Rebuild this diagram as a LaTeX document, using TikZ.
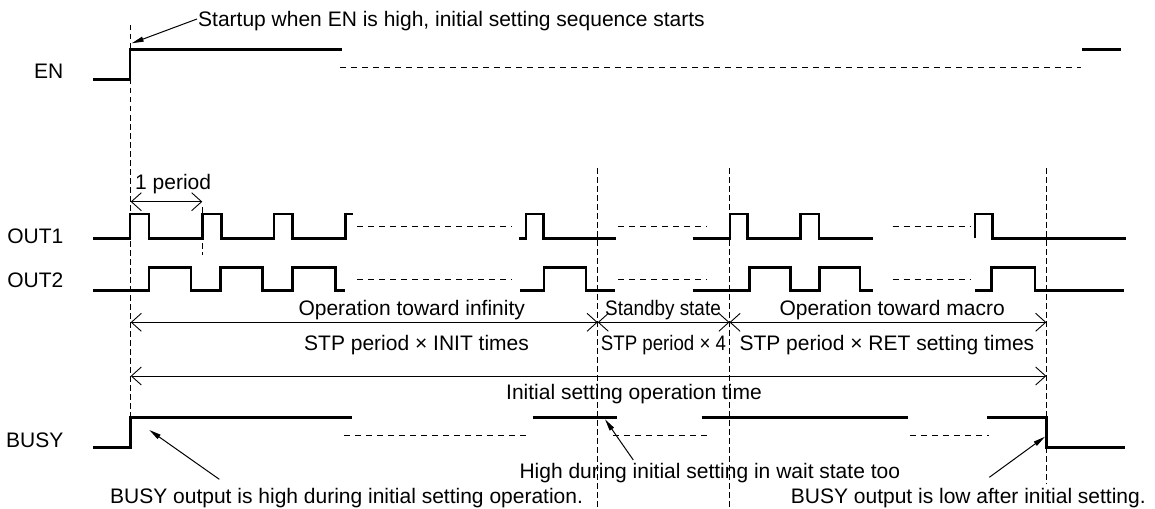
\documentclass[tikz,border=0pt]{standalone}
\usepackage{fontspec}
\setmainfont{Liberation Sans}
\usepackage{graphicx}
\usetikzlibrary{arrows.meta}
\begin{document}
\begin{tikzpicture}[x=1pt,y=-1pt,
  sig/.style={line width=2.6pt, line join=miter, line cap=butt},
  cont/.style={line width=0.9pt, dash pattern=on 6pt off 5pt},
  guide/.style={line width=0.9pt, dash pattern=on 5.5pt off 3.5pt},
  dim/.style={line width=0.9pt, {Straight Barb[length=10pt,width=18pt]}-{Straight Barb[length=10pt,width=18pt]}},
  note/.style={line width=1pt, -{Triangle[length=12pt,width=5pt]}},
  lbl/.style={font=\fontsize{21}{25}\selectfont, inner sep=0pt}]
\useasboundingbox (0,0) rectangle (1155,508);

% guide lines
\draw[guide] (130,25) -- (130,417);
\draw[guide] (202.3,207) -- (202.3,255);
\draw[guide] (597.7,168) -- (597.7,508);
\draw[guide] (729.5,168) -- (729.5,508);
\draw[guide] (1046.7,168) -- (1046.7,484);

% signal labels
\node[lbl, anchor=base east] (lEN) at (63.5,78.5) {EN};
\node[lbl, anchor=base east] (lOUT1) at (63.5,243.5) {OUT1};
\node[lbl, anchor=base east] (lOUT2) at (63.5,287) {OUT2};
\node[lbl, anchor=base east] (lBUSY) at (63.5,447) {BUSY};

% EN
\def\hi{49.3}\def\lo{79.3}
\draw[sig] (93,\lo) -- (130,\lo) -- (130,\hi) -- (341.7,\hi);
\draw[cont] (340,67.7) -- (1081,67.7);
\draw[sig] (1082,\hi) -- (1121,\hi);

% OUT1
\def\hi{214}\def\lo{238.3}\def\mid{226}
\draw[sig] (93,\lo) -- (130,\lo) -- (130,\hi) -- (149,\hi) -- (149,\lo) -- (202.3,\lo) -- (202.3,\hi) -- (221.7,\hi) -- (221.7,\lo) -- (274,\lo) -- (274,\hi) -- (292.7,\hi) -- (292.7,\lo) -- (345.7,\lo) -- (345.7,\hi) -- (353,\hi);
\draw[cont] (357,\mid) -- (512,\mid);
\draw[sig] (519.3,\lo) -- (526,\lo) -- (526,\hi) -- (543.3,\hi) -- (543.3,\lo) -- (616,\lo);
\draw[cont] (618,\mid) -- (706.7,\mid);
\draw[sig] (692.7,\lo) -- (730,\lo) -- (730,\hi) -- (747.7,\hi) -- (747.7,\lo) -- (800.7,\lo) -- (800.7,\hi) -- (819,\hi) -- (819,\lo) -- (872.7,\lo);
\draw[cont] (892.7,\mid) -- (970,\mid);
\draw[sig] (975,\lo) -- (975,\hi) -- (992.7,\hi) -- (992.7,\lo) -- (1126,\lo);

% OUT2
\def\hi{267.3}\def\lo{290.7}\def\mid{279.3}
\draw[sig] (93,\lo) -- (149,\lo) -- (149,\hi) -- (191,\hi) -- (191,\lo) -- (220.7,\lo) -- (220.7,\hi) -- (262.3,\hi) -- (262.3,\lo) -- (292.3,\lo) -- (292.3,\hi) -- (335.7,\hi) -- (335.7,\lo) -- (345,\lo);
\draw[cont] (357,\mid) -- (512,\mid);
\draw[sig] (520,\lo) -- (544,\lo) -- (544,\hi) -- (586,\hi) -- (586,\lo) -- (615,\lo);
\draw[cont] (618,\mid) -- (707,\mid);
\draw[sig] (692.7,\lo) -- (749.3,\lo) -- (749.3,\hi) -- (790.7,\hi) -- (790.7,\lo) -- (819.3,\lo) -- (819.3,\hi) -- (860,\hi) -- (860,\lo) -- (872.7,\lo);
\draw[cont] (892.7,\mid) -- (970,\mid);
\draw[sig] (975,\lo) -- (991.7,\lo) -- (991.7,\hi) -- (1035,\hi) -- (1035,\lo) -- (1124,\lo);

% BUSY
\def\hi{417.7}\def\lo{447.3}\def\mid{435.7}
\draw[sig] (93.3,\lo) -- (130.7,\lo) -- (130.7,\hi) -- (352.3,\hi);
\draw[cont] (344,\mid) -- (530,\mid);
\draw[sig] (532.7,\hi) -- (617.3,\hi);
\draw[cont] (613.3,\mid) -- (707.3,\mid);
\draw[sig] (701.7,\hi) -- (908.3,\hi);
\draw[cont] (910,\mid) -- (989.3,\mid);
\draw[sig] (987.3,\hi) -- (1046.7,\hi) -- (1046.7,\lo) -- (1125,\lo);

% dimension coordinates
\coordinate (p0) at (130.7,201.7);
\coordinate (p1) at (202.3,201.7);
\coordinate (a0) at (130.7,322.3);
\coordinate (a1) at (597.7,322.3);
\coordinate (a2) at (729.5,322.3);
\coordinate (a3) at (1046.3,322.3);
\coordinate (b0) at (130.7,376);
\coordinate (b1) at (1046.3,376);
\draw[dim] (p0) -- (p1);
\draw[dim] (a0) -- (a1);
\draw[dim] (a1) -- (a2);
\draw[dim] (a2) -- (a3);
\draw[dim] (b0) -- (b1);

% texts
\node[lbl, anchor=base west] (title) at (198,26.5) {Startup when EN is high, initial setting sequence starts};
\node[lbl, anchor=base west] (tper) at (135,189.5) {1 period};
\node[lbl, anchor=base west] (tinf) at (298.3,315) {Operation toward infinity};
\node[lbl, anchor=base west] (tstb) at (605,315) {\scalebox{0.9}[1]{Standby state}};
\node[lbl, anchor=base west] (tmac) at (779.3,315) {Operation toward macro};
\node[lbl, anchor=base west] (tinit) at (304,350) {STP period × INIT times};
\node[lbl, anchor=base west] (tfour) at (600.7,350) {\scalebox{0.89}[1]{STP period × 4}};
\node[lbl, anchor=base west] (tret) at (739.3,350) {STP period × RET setting times};
\node[lbl, anchor=base west] (ttime) at (506,399) {Initial setting operation time};
\node[lbl, anchor=base west] (twait) at (519.3,478) {High during initial setting in wait state too};
\node[lbl, anchor=base west] (thigh) at (110,503) {BUSY output is high during initial setting operation.};
\node[lbl, anchor=base west] (tlow) at (790.7,503) {BUSY output is low after initial setting.};

% annotation arrows
\coordinate (n1s) at (197,19);   \coordinate (n1e) at (131.7,43.3);
\coordinate (n2s) at (219.3,479.3); \coordinate (n2e) at (149.3,430);
\coordinate (n3s) at (633.3,460); \coordinate (n3e) at (605,419.3);
\coordinate (n4s) at (989.3,477.3); \coordinate (n4e) at (1045,436.7);
\draw[note] (n1s) -- (n1e);
\draw[note] (n2s) -- (n2e);
\draw[note] (n3s) -- (n3e);
\draw[note] (n4s) -- (n4e);
\end{tikzpicture}
\end{document}
